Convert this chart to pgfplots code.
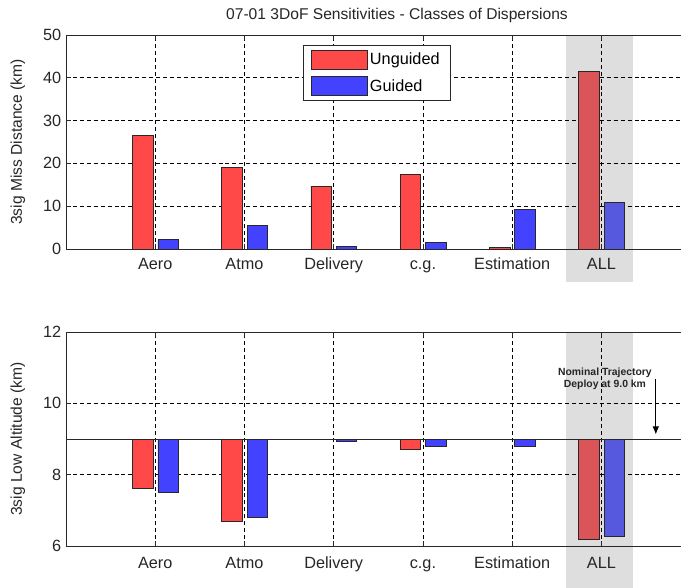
\documentclass[border=0pt]{standalone}
\usepackage{fontspec}
\setmainfont{Liberation Sans}
\usepackage{pgfplots}
\pgfplotsset{compat=1.18}
\usetikzlibrary{arrows.meta}
\definecolor{ured}{RGB}{255,72,72}
\definecolor{gblue}{RGB}{66,66,255}
\definecolor{ureda}{RGB}{218,84,88}
\definecolor{gbluea}{RGB}{86,88,222}
\definecolor{bandgray}{RGB}{222,222,222}
\definecolor{axgray}{RGB}{40,40,40}
\newcommand{\fs}{\fontsize{11.7}{14}\selectfont}
\newcommand{\ft}{\fontsize{12.2}{14}\selectfont}
\pgfplotsset{
  mystyle/.style={
    scale only axis, width=468.45pt, height=160.5pt,
    xmin=0, xmax=7, xtick={1,...,6},
    xticklabels={Aero,Atmo,Delivery,c.g.,Estimation,ALL},
    grid=major,
    major grid style={black, dash pattern=on 3pt off 2.2pt, line width=0.6pt},
    axis line style={axgray, line width=0.7pt},
    tick align=inside, major tick length=4pt, tick style={axgray, line width=0.6pt},
    ticklabel style={font=\ft, text=black!85},
    label style={font=\fs, text=black!85},
    ylabel style={at={(axis description cs:-0.077,0.5)}, anchor=center},
    /pgf/number format/assume math mode=true,
    clip=false,
    bar width=0.23,
    legend image code/.code={\draw[#1, line width=0.6pt] (0pt,-7.2pt) rectangle (41.5pt,7.2pt);},
  },
  ubar/.style={ybar, bar shift=-0.14, fill=ured, draw=axgray, line width=0.6pt},
  gbar/.style={ybar, bar shift=0.145, fill=gblue, draw=axgray, line width=0.6pt},
}
\begin{document}
\begin{tikzpicture}[x=1pt,y=1pt]
\path[use as bounding box] (0,0) rectangle (510.75,-441);
\fill[bandgray] (424.3,-26.25) rectangle (474.4,-211.5);
\fill[bandgray] (424.3,-249) rectangle (474.4,-441);
\node[font=\fs, text=black!85] at (297.75,-11.25) {07-01 3DoF Sensitivities - Classes of Dispersions};
% top axis
\begin{axis}[mystyle, at={(49.5pt,-186.75pt)}, anchor=south west,
  ymin=0, ymax=50, ytick={0,10,...,50},
  xticklabel style={yshift=-3pt, text height=9pt, text depth=2.5pt},
  ylabel={3sig Miss Distance (km)},
  legend cell align=left,
  legend style={at={(0.379,0.953)}, anchor=north west, draw=axgray, line width=0.7pt,
    font=\ft, inner xsep=6pt, inner ysep=3pt, row sep=5pt,
    /tikz/every even column/.append style={column sep=3pt},
    /tikz/every odd column/.append style={column sep=0pt}},
  ]
\addplot[ubar] coordinates {(1,26.5) (2,19.1) (3,14.7) (4,17.5) (5,0.3)};
\addlegendentry{Unguided}
\addplot[gbar] coordinates {(1,2.2) (2,5.6) (3,0.6) (4,1.6) (5,9.3)};
\addlegendentry{Guided}
\addplot[ubar, fill=ureda, forget plot] coordinates {(6,41.5)};
\addplot[gbar, fill=gbluea, forget plot] coordinates {(6,11.0)};
\end{axis}
% bottom axis
\begin{axis}[mystyle, at={(49.5pt,-409.5pt)}, anchor=south west,
  ymin=-3, ymax=3, ytick={-3,-1,1,3}, yticklabels={6,8,10,12},
  xticklabel style={yshift=-4.5pt, text height=9pt, text depth=2.5pt},
  y filter/.expression={y-9},
  ylabel={3sig Low Altitude (km)},
  ]
\addplot[ubar] coordinates {(1,7.62) (2,6.68) (4,8.71)};
\addplot[gbar] coordinates {(1,7.51) (2,6.79) (3,8.93) (4,8.79) (5,8.79)};
\addplot[ubar, fill=ureda] coordinates {(6,6.19)};
\addplot[gbar, fill=gbluea] coordinates {(6,6.26)};
\draw[axgray, line width=0.7pt] (axis cs:0,0) -- (axis cs:7,0);
\node[font=\bfseries\fontsize{7.8}{9}\selectfont, align=center, text=black!85] at (axis cs:6.04,1.7)
  {Nominal Trajectory\\Deploy at 9.0 km};
\draw[-{Latex[length=6pt,width=5pt]}, line width=0.7pt] (axis cs:6.61,1.69) -- (axis cs:6.61,0.13);
\end{axis}
\end{tikzpicture}
\end{document}
